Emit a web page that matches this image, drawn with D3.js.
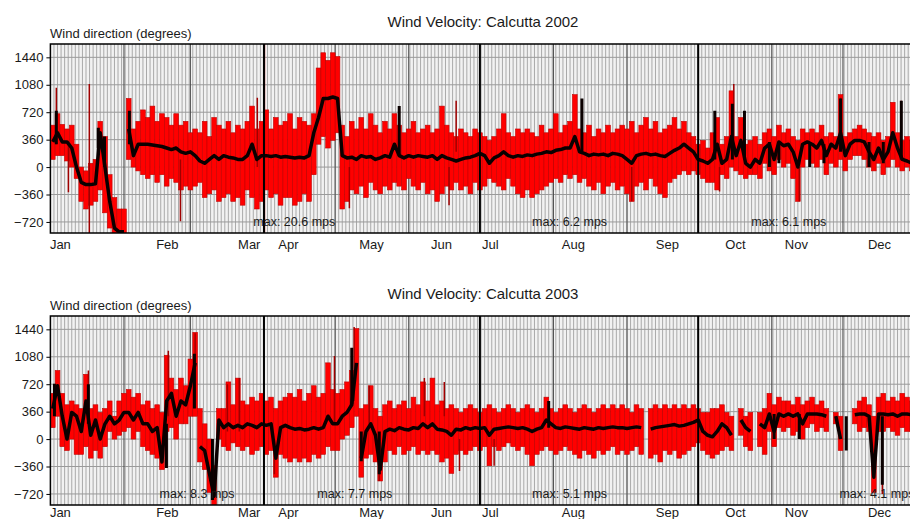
<!DOCTYPE html>
<html>
<head>
<meta charset="utf-8">
<script src="https://cdn.jsdelivr.net/npm/d3@7"></script>
<style>
  body { margin: 0; background: #fff; }
  text { font-family: "Liberation Sans", Arial, sans-serif; fill: #1a1a1a; }
</style>
</head>
<body>
<script>
// Wind direction in 2-day bins (degrees)
// 2002: top / bottom of the red spread and the black direction line
var hi02 = [
  550,700,560,500,550,300,0,-50,50,100,
  600,400,-100,-400,-550,-550,900,500,600,750,
  650,800,600,700,650,550,700,550,600,450,
  500,450,600,400,650,550,500,600,450,550,
  500,600,800,500,600,750,500,650,550,600,
  700,500,650,600,550,700,1300,1500,1400,1500,
  1450,550,400,600,500,650,500,700,550,450,
  600,500,700,550,450,500,600,450,500,550,
  450,500,800,550,450,400,500,450,400,500,
  450,400,350,400,500,700,450,400,500,450,
  500,450,400,550,450,500,700,450,550,600,
  950,500,450,550,400,500,450,550,450,500,
  550,500,600,450,550,650,500,600,450,500,
  550,650,500,600,450,400,300,350,250,450,
  650,300,400,1000,400,650,300,350,400,300,
  450,500,400,550,450,500,400,350,500,450,
  500,450,550,400,450,400,950,400,450,500,
  550,500,450,400,450,350,400,850,450,350,400,350,350
];
var lo02 = [
  100,150,150,80,0,-150,-450,-550,-500,-450,
  -300,-600,-800,-900,-900,-900,100,0,-50,-100,
  -150,-100,-200,-100,-250,-150,-200,-300,-250,-300,
  -250,-200,-400,-350,-300,-450,-400,-350,-450,-400,
  -500,-300,-400,-550,-450,-300,-400,-350,-500,-400,
  -400,-500,-450,-350,-450,-100,300,400,250,350,
  450,-550,-450,-300,-350,-250,-400,-200,-300,-350,
  -250,-300,-200,-250,-300,-150,-250,-300,-200,-350,
  -300,-450,-350,-250,-300,-200,-300,-250,-350,-200,
  -300,-250,-150,-200,-250,-300,-150,-250,-350,-400,
  -300,-400,-350,-300,-250,-200,-150,-200,-100,-150,
  -100,-200,-150,-250,-300,-200,-350,-250,-200,-300,
  -250,-350,-450,-250,-200,-300,-150,-250,-350,-400,
  -200,-150,-100,-50,-100,-50,-100,-150,-200,-200,
  -300,-100,-150,0,-50,-100,-150,-100,-100,-150,
  50,-50,-100,100,0,50,-150,-450,0,100,
  50,0,100,-100,50,0,100,-50,100,150,
  150,100,0,-50,50,-100,0,100,0,-50,0,-50,0
];
var mid02 = [
  330,450,330,330,250,0,-200,-230,-230,-220,
  450,0,-450,-800,-850,-850,500,150,300,300,
  300,290,280,270,250,230,250,200,180,200,
  150,80,50,100,150,100,150,130,120,100,
  100,150,300,100,150,150,140,150,130,140,
  130,120,130,120,150,450,650,900,900,920,
  900,150,120,130,100,150,130,140,100,120,
  150,130,300,150,120,150,130,150,140,130,
  150,100,150,120,100,80,100,120,130,150,
  180,150,50,120,150,200,150,130,150,140,
  160,150,170,180,200,190,220,230,250,250,
  400,200,180,150,170,160,170,150,180,170,
  150,100,50,150,170,180,160,170,150,140,
  180,220,250,300,250,200,100,80,50,100,
  300,50,100,400,150,350,50,0,100,50,
  250,300,100,330,280,300,200,0,300,330,
  300,250,350,150,300,250,450,150,300,350,
  350,330,200,100,250,100,200,450,250,100,80,50,100
];
// thin dark red outliers [day, low, high] and black direction jumps [day, low, high]
var spikes02 = [[2.5,300,1040],[7.6,-330,300],[16.4,-880,1090],[54.8,-710,100],[87.2,0,910],
  [90.2,-900,1620],[126,-540,0],[168,-500,0],[171,200,870],[245,-450,0],[282,-320,0],
  [288,300,1090],[315.6,-450,0],[333,300,910],[358.6,300,870]];
var black02 = [[2.5,300,740],[20.2,250,515],[22.8,0,400],[33.3,300,740],[147,150,800],
  [224,200,900],[280,100,740],[287.4,100,830],[292.5,100,740],[303,0,330],[307,50,330],
  [320,0,330],[326,50,300],[333,200,900],[345,0,330],[351,50,330],[358.6,100,870]];

// 2003
var hi03 = [
  600,900,600,450,500,450,400,850,400,450,
  350,400,500,300,500,600,650,550,600,450,
  500,400,450,350,1100,800,650,800,700,1050,
  1400,400,200,0,-350,400,400,750,450,800,
  500,450,550,500,600,500,550,400,500,550,
  600,550,650,500,600,700,550,600,1000,650,
  600,650,750,900,1450,400,450,700,400,300,
  450,500,400,450,500,400,550,450,750,500,
  800,450,500,400,450,400,350,400,450,400,
  350,400,450,400,350,400,450,400,350,400,
  450,400,350,400,550,400,350,400,450,400,
  350,400,450,400,350,400,450,400,450,400,
  450,400,350,450,400,null,400,450,400,450,
  400,450,400,450,400,450,400,350,350,400,
  400,450,350,300,null,400,300,350,null,350,
  400,600,450,550,500,500,450,550,450,500,
  550,450,500,400,null,350,300,null,null,400,
  500,550,450,300,550,600,500,550,500,600,550,500,450
];
var lo03 = [
  150,300,-100,-150,0,-200,-200,-100,-250,-150,
  -250,-100,100,0,50,100,150,0,100,-100,
  -150,-200,-250,-400,100,150,0,200,200,300,
  300,-300,-400,-700,-900,0,-100,-150,-50,-100,
  -150,-100,-200,-150,-100,-200,-150,-500,-200,-250,
  -300,-250,-300,-250,-300,-200,-250,-200,-100,-150,
  -150,0,50,150,300,-500,-250,-200,-300,-550,
  -300,-150,-200,-100,-200,-150,-100,-200,-150,-200,
  -150,-200,-300,-250,-450,-200,-150,-200,-150,-100,
  -150,-100,-350,-100,-150,-100,-50,-100,-150,-100,
  -200,-350,-200,-150,-100,-150,-200,-150,-100,-150,
  -200,-250,-150,-200,-250,-150,-200,-150,-100,-200,
  -150,-200,-150,-100,-200,null,-250,-200,-300,-150,
  -200,-150,-250,-200,-150,-100,-50,-150,-200,-250,
  -200,-150,-100,-150,null,50,-100,-150,null,-100,
  -200,100,-100,150,100,150,50,100,0,150,
  200,100,150,100,null,200,-150,null,null,200,
  100,150,100,-700,100,100,150,100,50,150,100,100,150
];
var mid03 = [
  400,700,300,0,350,300,100,500,50,250,
  0,200,300,200,250,350,350,250,350,200,
  200,100,150,-300,500,600,300,500,450,700,
  1000,-100,-150,-450,-750,250,150,200,150,180,
  150,200,180,150,200,180,200,-250,150,180,
  150,130,140,120,130,150,130,150,300,200,
  200,300,350,450,1000,-250,100,200,50,-400,
  100,130,110,150,130,120,150,140,200,150,
  200,130,120,100,50,130,120,150,130,150,
  140,150,50,130,140,150,160,150,140,150,
  130,100,130,150,250,200,150,140,160,150,
  140,130,150,140,130,150,140,150,160,150,
  150,140,150,160,150,null,130,150,160,170,
  180,190,170,180,200,220,250,100,50,30,
  100,200,150,50,null,250,150,100,null,200,
  150,330,100,330,300,330,300,330,200,330,
  330,330,320,300,null,300,0,null,null,320,
  330,330,300,-500,330,330,320,330,300,330,330,320,330
];
var spikes03 = [[16,200,900],[49.7,300,1160],[61,500,1390],[74.6,100,720],[79.6,100,800],
  [94.4,-460,0],[119.7,200,1090],[128,500,1470],[134.4,200,700],[138.6,-550,0],
  [157.6,300,800],[166,300,750],[172.4,-420,0],[187,-350,0],[350.6,-720,0]];
var black03 = [[1.7,300,725],[16,200,720],[48.9,-380,200],[60.7,400,1120],[68.3,-800,0],
  [127,460,1200],[131,-290,100],[138.6,-460,100],[210,150,500],[305,0,330],
  [315.6,0,330],[335.4,-150,300],[350.6,-600,300]];

// axis text
var monthNames = ['Jan','Feb','Mar','Apr','May','Jun','Jul','Aug','Sep','Oct','Nov','Dec'];
var monthLabelDays = [4.2, 49.3, 83.8, 100.3, 135.3, 164.8, 185.4, 220.4, 260, 288.7, 314.4, 349.4];
var monthStarts = [31, 59, 90, 120, 151, 181, 212, 243, 273, 304, 334];
var quarterStarts = [90, 181, 273];
var yTicks = [-720, -360, 0, 360, 720, 1080, 1440];
var maxText02 = [[85.5, 'max: 20.6 mps'], [203, 'max: 6.2 mps'], [295.4, 'max: 6.1 mps']];
var maxText03 = [[46, 'max: 8.3 mps'], [112.5, 'max: 7.7 mps'], [203, 'max: 5.1 mps'], [332.5, 'max: 4.1 mps']];

var width = 910, height = 519;
var svg = d3.select('body').append('svg')
  .attr('width', width)
  .attr('height', height);

var x = d3.scaleLinear().domain([0, 365]).range([50.4, 916.5]);
var binDays = 2;

function drawPanel(top, title, hi, lo, mid, spikes, blacks, maxText, monthY) {
  var h = 189;
  var y = d3.scaleLinear().domain([-865, 1615]).range([top + h, top]);
  var g = svg.append('g');
  var clipId = 'clip' + top;

  svg.append('clipPath').attr('id', clipId)
    .append('rect')
    .attr('x', x(0)).attr('y', top)
    .attr('width', width - x(0)).attr('height', h);

  g.append('rect')
    .attr('x', x(0)).attr('y', top)
    .attr('width', width - x(0)).attr('height', h)
    .attr('fill', '#f2f2f2');

  var grid = g.append('g').attr('clip-path', 'url(#' + clipId + ')');
  grid.selectAll('line.vg')
    .data(d3.range(0, 366, 1.5))
    .enter().append('line')
    .attr('x1', function (d) { return x(d); })
    .attr('x2', function (d) { return x(d); })
    .attr('y1', top).attr('y2', top + h)
    .attr('stroke', '#a9a9a9').attr('stroke-width', 1);
  grid.selectAll('line.hg')
    .data(yTicks)
    .enter().append('line')
    .attr('x1', x(0)).attr('x2', width)
    .attr('y1', function (d) { return y(d); })
    .attr('y2', function (d) { return y(d); })
    .attr('stroke', '#9a9a9a').attr('stroke-width', 1);
  grid.selectAll('line.mg')
    .data(monthStarts)
    .enter().append('line')
    .attr('x1', function (d) { return x(d); })
    .attr('x2', function (d) { return x(d); })
    .attr('y1', top).attr('y2', top + h)
    .attr('stroke', '#4a4a4a').attr('stroke-width', 1);

  var bins = hi.map(function (v, i) {
    return { day: i * binDays, hi: v, lo: lo[i], mid: mid[i] };
  });

  var data = g.append('g').attr('clip-path', 'url(#' + clipId + ')');

  data.selectAll('rect.red')
    .data(bins.filter(function (d) { return d.hi != null; }))
    .enter().append('rect')
    .attr('x', function (d) { return x(d.day); })
    .attr('width', function (d) { return x(d.day + binDays) - x(d.day); })
    .attr('y', function (d) { return y(d.hi); })
    .attr('height', function (d) { return y(d.lo) - y(d.hi); })
    .attr('fill', '#ff0000')
    .attr('stroke', '#c00000')
    .attr('stroke-width', 0.6);

  data.selectAll('line.spike')
    .data(spikes)
    .enter().append('line')
    .attr('x1', function (d) { return x(d[0]); })
    .attr('x2', function (d) { return x(d[0]); })
    .attr('y1', function (d) { return y(d[1]); })
    .attr('y2', function (d) { return y(d[2]); })
    .attr('stroke', '#a00000').attr('stroke-width', 1.5);

  // break the black line on gaps and on very large jumps
  var segs = [], cur = [];
  bins.forEach(function (d, i) {
    var prev = i > 0 ? bins[i - 1] : null;
    if (d.mid == null || (prev && prev.mid != null && Math.abs(d.mid - prev.mid) > 1000)) {
      if (cur.length) segs.push(cur);
      cur = [];
    }
    if (d.mid != null) cur.push(d);
  });
  if (cur.length) segs.push(cur);

  var line = d3.line()
    .x(function (d) { return x(d.day + binDays / 2); })
    .y(function (d) { return y(d.mid); });

  data.selectAll('path.dir')
    .data(segs)
    .enter().append('path')
    .attr('d', function (d) { return d.length > 1 ? line(d) : 'M' + (x(d[0].day) + 1) + ',' + y(d[0].mid) + 'h3'; })
    .attr('fill', 'none')
    .attr('stroke', '#0a0000')
    .attr('stroke-width', 3.5)
    .attr('stroke-linejoin', 'round');

  data.selectAll('line.blk')
    .data(blacks)
    .enter().append('line')
    .attr('x1', function (d) { return x(d[0]); })
    .attr('x2', function (d) { return x(d[0]); })
    .attr('y1', function (d) { return y(d[1]); })
    .attr('y2', function (d) { return y(d[2]); })
    .attr('stroke', '#0a0000').attr('stroke-width', 3);

  // quarter separators
  g.selectAll('line.qg')
    .data(quarterStarts)
    .enter().append('line')
    .attr('x1', function (d) { return x(d); })
    .attr('x2', function (d) { return x(d); })
    .attr('y1', top).attr('y2', top + h)
    .attr('stroke', '#000').attr('stroke-width', 2);

  g.selectAll('text.mx')
    .data(maxText)
    .enter().append('text')
    .attr('x', function (d) { return x(d[0]); })
    .attr('y', top + h - 7)
    .attr('font-size', 12.5)
    .attr('fill', '#333')
    .text(function (d) { return d[1]; });

  // frame
  g.append('path')
    .attr('d', 'M' + width + ',' + top + 'H' + x(0) + 'V' + (top + h) + 'H' + width)
    .attr('fill', 'none').attr('stroke', '#000').attr('stroke-width', 1.5);

  var yAxis = d3.axisLeft(y).tickValues(yTicks).tickSize(4).tickFormat(d3.format('d'));
  var ya = g.append('g')
    .attr('transform', 'translate(' + x(0) + ',0)')
    .call(yAxis);
  ya.select('.domain').remove();
  ya.selectAll('text').attr('font-size', 13).attr('font-family', '"Liberation Sans", Arial, sans-serif').attr('fill', '#1a1a1a');
  ya.selectAll('line').attr('stroke', '#000');

  g.selectAll('text.mon')
    .data(monthNames)
    .enter().append('text')
    .attr('x', function (d, i) { return x(monthLabelDays[i]); })
    .attr('y', monthY)
    .attr('text-anchor', 'middle')
    .attr('font-size', 13)
    .text(function (d) { return d; });

  g.append('text')
    .attr('x', 483).attr('y', top - 17)
    .attr('text-anchor', 'middle')
    .attr('font-size', 15)
    .text(title);

  g.append('text')
    .attr('x', 50).attr('y', top - 6)
    .attr('font-size', 13)
    .text('Wind direction (degrees)');
}

drawPanel(44, 'Wind Velocity: Calcutta 2002', hi02, lo02, mid02, spikes02, black02, maxText02, 249);
drawPanel(316, 'Wind Velocity: Calcutta 2003', hi03, lo03, mid03, spikes03, black03, maxText03, 517);
</script>
</body>
</html>
